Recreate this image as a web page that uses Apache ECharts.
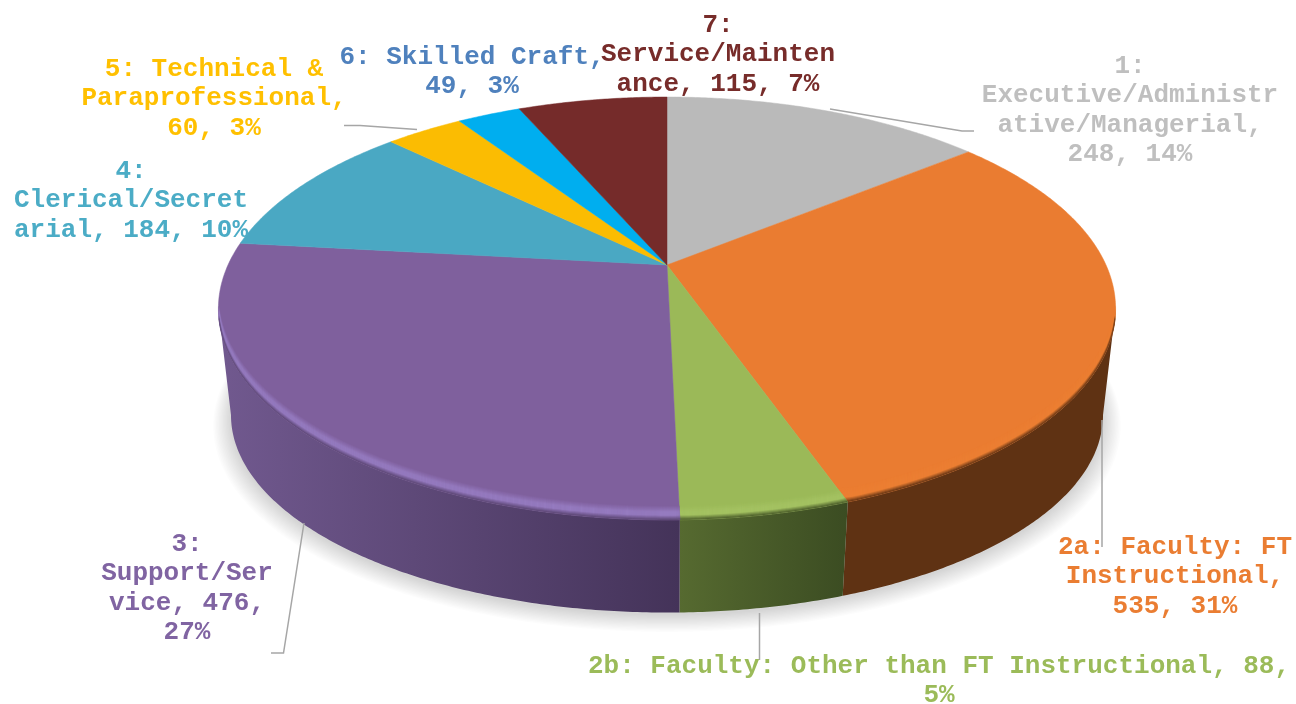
<!DOCTYPE html>
<html>
<head>
<meta charset="utf-8">
<style>html,body{margin:0;padding:0;background:#fff}#c{width:1296px;height:704px}</style>
<script src="https://cdn.jsdelivr.net/npm/echarts@6/dist/echarts.min.js"></script>
</head>
<body>
<div id="c"></div>
<script>
// ---- data ----
const categories = ['1: Executive/Administrative/Managerial','2a: Faculty: FT Instructional','2b: Faculty: Other than FT Instructional','3: Support/Service','4: Clerical/Secretarial','5: Technical & Paraprofessional','6: Skilled Craft','7: Service/Maintenance'];
const values = [248, 535, 88, 476, 184, 60, 49, 115];
const labelTexts = [
  '1:\nExecutive/Administr\native/Managerial,\n248, 14%',
  '2a: Faculty: FT\nInstructional,\n535, 31%',
  '2b: Faculty: Other than FT Instructional, 88,\n5%',
  '3:\nSupport/Ser\nvice, 476,\n27%',
  '4:\nClerical/Secret\narial, 184, 10%',
  '5: Technical &\nParaprofessional,\n60, 3%',
  '6: Skilled Craft,\n49, 3%',
  '7:\nService/Mainten\nance, 115, 7%'
];
// ---- styles ----
const faceColors  = ['#bababa','#ea7c31','#9bb958','#7f609d','#4aa8c3','#fbbc02','#00aeef','#752b2a'];
const labelColors = ['#bfbfbf','#ea7d32','#9bbb59','#8064a2','#4bacc6','#ffc000','#4f81bd','#772c2a'];
const sideStops   = [
  ['#6e6e6e','#6e6e6e'],['#5f3213','#5f3213'],['#566a30','#3b4c22'],['#71598f','#443359'],
  ['#2c6475','#2c6475'],['#947000','#947000'],['#00688f','#00688f'],['#461a19','#461a19']
];
const rimLight = ['#c8c8c8','#ec7f33','#a4c262','#967bc0','#5cb8d0','#ffcc30','#30c0f0','#8a3a38'];
// ---- layout ----
const apexX = 667, topApexY = 265, baseApexY = 374.4;
const topA = 439, topB = 202.5, baseA = 426.7, baseB = 189.2, persp = 0.2056;
const labelPos = [[1130,110.5],[1175,576.5],[939,681],[187,588.5],[131,200.5],[214,98.5],[472,72],[718,54.5]];
const leaders = [
  [[830,109],[962,131],[974,131]],
  [[1102,420],[1102,547]],
  [[759.5,613],[759.5,660]],
  [[304,523],[283.5,653],[271,653]],
  [],
  [[344,125.5],[360,125.5],[417,129.5]],
  [],
  []
];
const total = values.reduce((a,b)=>a+b,0);
const startDeg = [], endDeg = [];
values.reduce((acc,v,i)=>{startDeg[i]=acc/total*360; endDeg[i]=(acc+v)/total*360; return acc+v;},0);
const silhouetteA = Math.acos(-persp)*180/Math.PI, silhouetteB = 360-silhouetteA;

function proj(deg, r, level){
  const t = deg*Math.PI/180, u = r*Math.sin(t), v = r*Math.cos(t), w = 1+persp*v;
  return level===0 ? [apexX+topA*u/w, topApexY-topB*v/w] : [apexX+baseA*u/w, baseApexY-baseB*v/w];
}
function arc(a,b,r,level){
  const pts=[], n=Math.max(2,Math.ceil(Math.abs(b-a)*2));
  for(let i=0;i<=n;i++) pts.push(proj(a+(b-a)*i/n,r,level));
  return pts;
}
function mix(c1,c2,t){
  const p=c=>[1,3,5].map(i=>parseInt(c.substr(i,2),16)), a=p(c1), b=p(c2);
  const ch=a.map((x,i)=>Math.round(x+(b[i]-x)*t));
  return '#'+ch.map(n=>n.toString(16).padStart(2,'0')).join('');
}
function renderShadow(){
  const children=[];
  for(let k=13;k>=0;k--){
    const pts=arc(0,360,1+k*0.003,1).map(p=>[p[0],p[1]+3+k*0.35]);
    children.push({type:'polygon',shape:{points:pts},style:{fill:'rgba(0,0,0,0.0135)'}});
  }
  return {type:'group',children};
}
function renderSide(params){
  const i=params.dataIndex, a=Math.max(startDeg[i],silhouetteA), b=Math.min(endDeg[i],silhouetteB);
  if(b<=a) return {type:'group',children:[]};
  const pts=arc(a,b,1,0).concat(arc(a,b,1,1).reverse());
  const xs=pts.map(p=>p[0]);
  const grad=new echarts.graphic.LinearGradient(Math.min(...xs),0,Math.max(...xs),0,
    [{offset:0,color:sideStops[i][0]},{offset:1,color:sideStops[i][1]}],true);
  return {type:'polygon',shape:{points:pts},style:{fill:grad}};
}
// bevel: the front rim of the top face, drawn as strips lifted off the edge
function bevelCurve(a,b,d,trimA,trimB){
  const lifted=arc(a,b,1,0).map(p=>[p[0],p[1]-d]);
  const slide=(deg)=>{const p=proj(deg,1,0), t=d/(p[1]-topApexY); return [p[0]+(apexX-p[0])*t,p[1]+(topApexY-p[1])*t];};
  const head=trimA?slide(a):lifted[0], tail=trimB?slide(b):lifted[lifted.length-1];
  // x falls steadily along the front of the rim, so anything past an end is outside the slice
  const mid=lifted.slice(1,-1).filter(p=>p[0]<head[0]&&p[0]>tail[0]);
  return [head].concat(mid,[tail]);
}
function renderTop(params){
  const i=params.dataIndex, a=startDeg[i], b=endDeg[i];
  const children=[{type:'polygon',shape:{points:[proj(a,0,0)].concat(arc(a,b,1,0))},
    style:{fill:faceColors[i],stroke:faceColors[i],lineWidth:0.5}}];
  const ra=Math.max(a,silhouetteA+3), rb=Math.min(b,silhouetteB-3);
  if(rb>ra){
    const dark=mix(sideStops[i][0],sideStops[i][1],0.5);
    const dMax=14;
    for(let d=dMax;d>0;d--){
      const dm=d-0.5;
      let col;
      if(dm>8) col=mix(faceColors[i],rimLight[i],(dMax-dm)/(dMax-8));
      else if(dm>4.5) col=rimLight[i];
      else col=mix(rimLight[i],dark,(4.5-dm)/4.5);
      const top=bevelCurve(ra,rb,d,ra===a,rb===b), low=bevelCurve(ra,rb,d-1,ra===a,rb===b);
      children.push({type:'polygon',shape:{points:top.concat(low.reverse())},style:{fill:col,stroke:col,lineWidth:0.4}});
    }
  }
  return {type:'group',children};
}
function renderLeader(params){
  const pts=leaders[params.dataIndex];
  if(!pts.length) return {type:'group',children:[]};
  return {type:'polyline',shape:{points:pts},style:{fill:null,stroke:'#a6a6a6',lineWidth:1.5}};
}
function renderLabel(params){
  const i=params.dataIndex;
  return {type:'text',style:{text:labelTexts[i],x:labelPos[i][0],y:labelPos[i][1],
    fill:labelColors[i],font:'bold 26px "Liberation Mono"',lineHeight:29.5,align:'center',verticalAlign:'middle'}};
}
const seriesData=values.map((v,i)=>({name:categories[i],value:v}));
const mk=(fn,z,data)=>({type:'custom',coordinateSystem:'none',renderItem:fn,data:data||seriesData,z:z,silent:true,animation:false,clip:false});
const chart=echarts.init(document.getElementById('c'),null,{renderer:'canvas'});
chart.setOption({
  backgroundColor:'#fff',animation:false,
  series:[
    mk(renderShadow,1,[{name:'shadow',value:total}]),
    mk(renderSide,2),
    mk(renderTop,3),
    mk(renderLeader,4),
    mk(renderLabel,5)
  ]
});
</script>
</body>
</html>
